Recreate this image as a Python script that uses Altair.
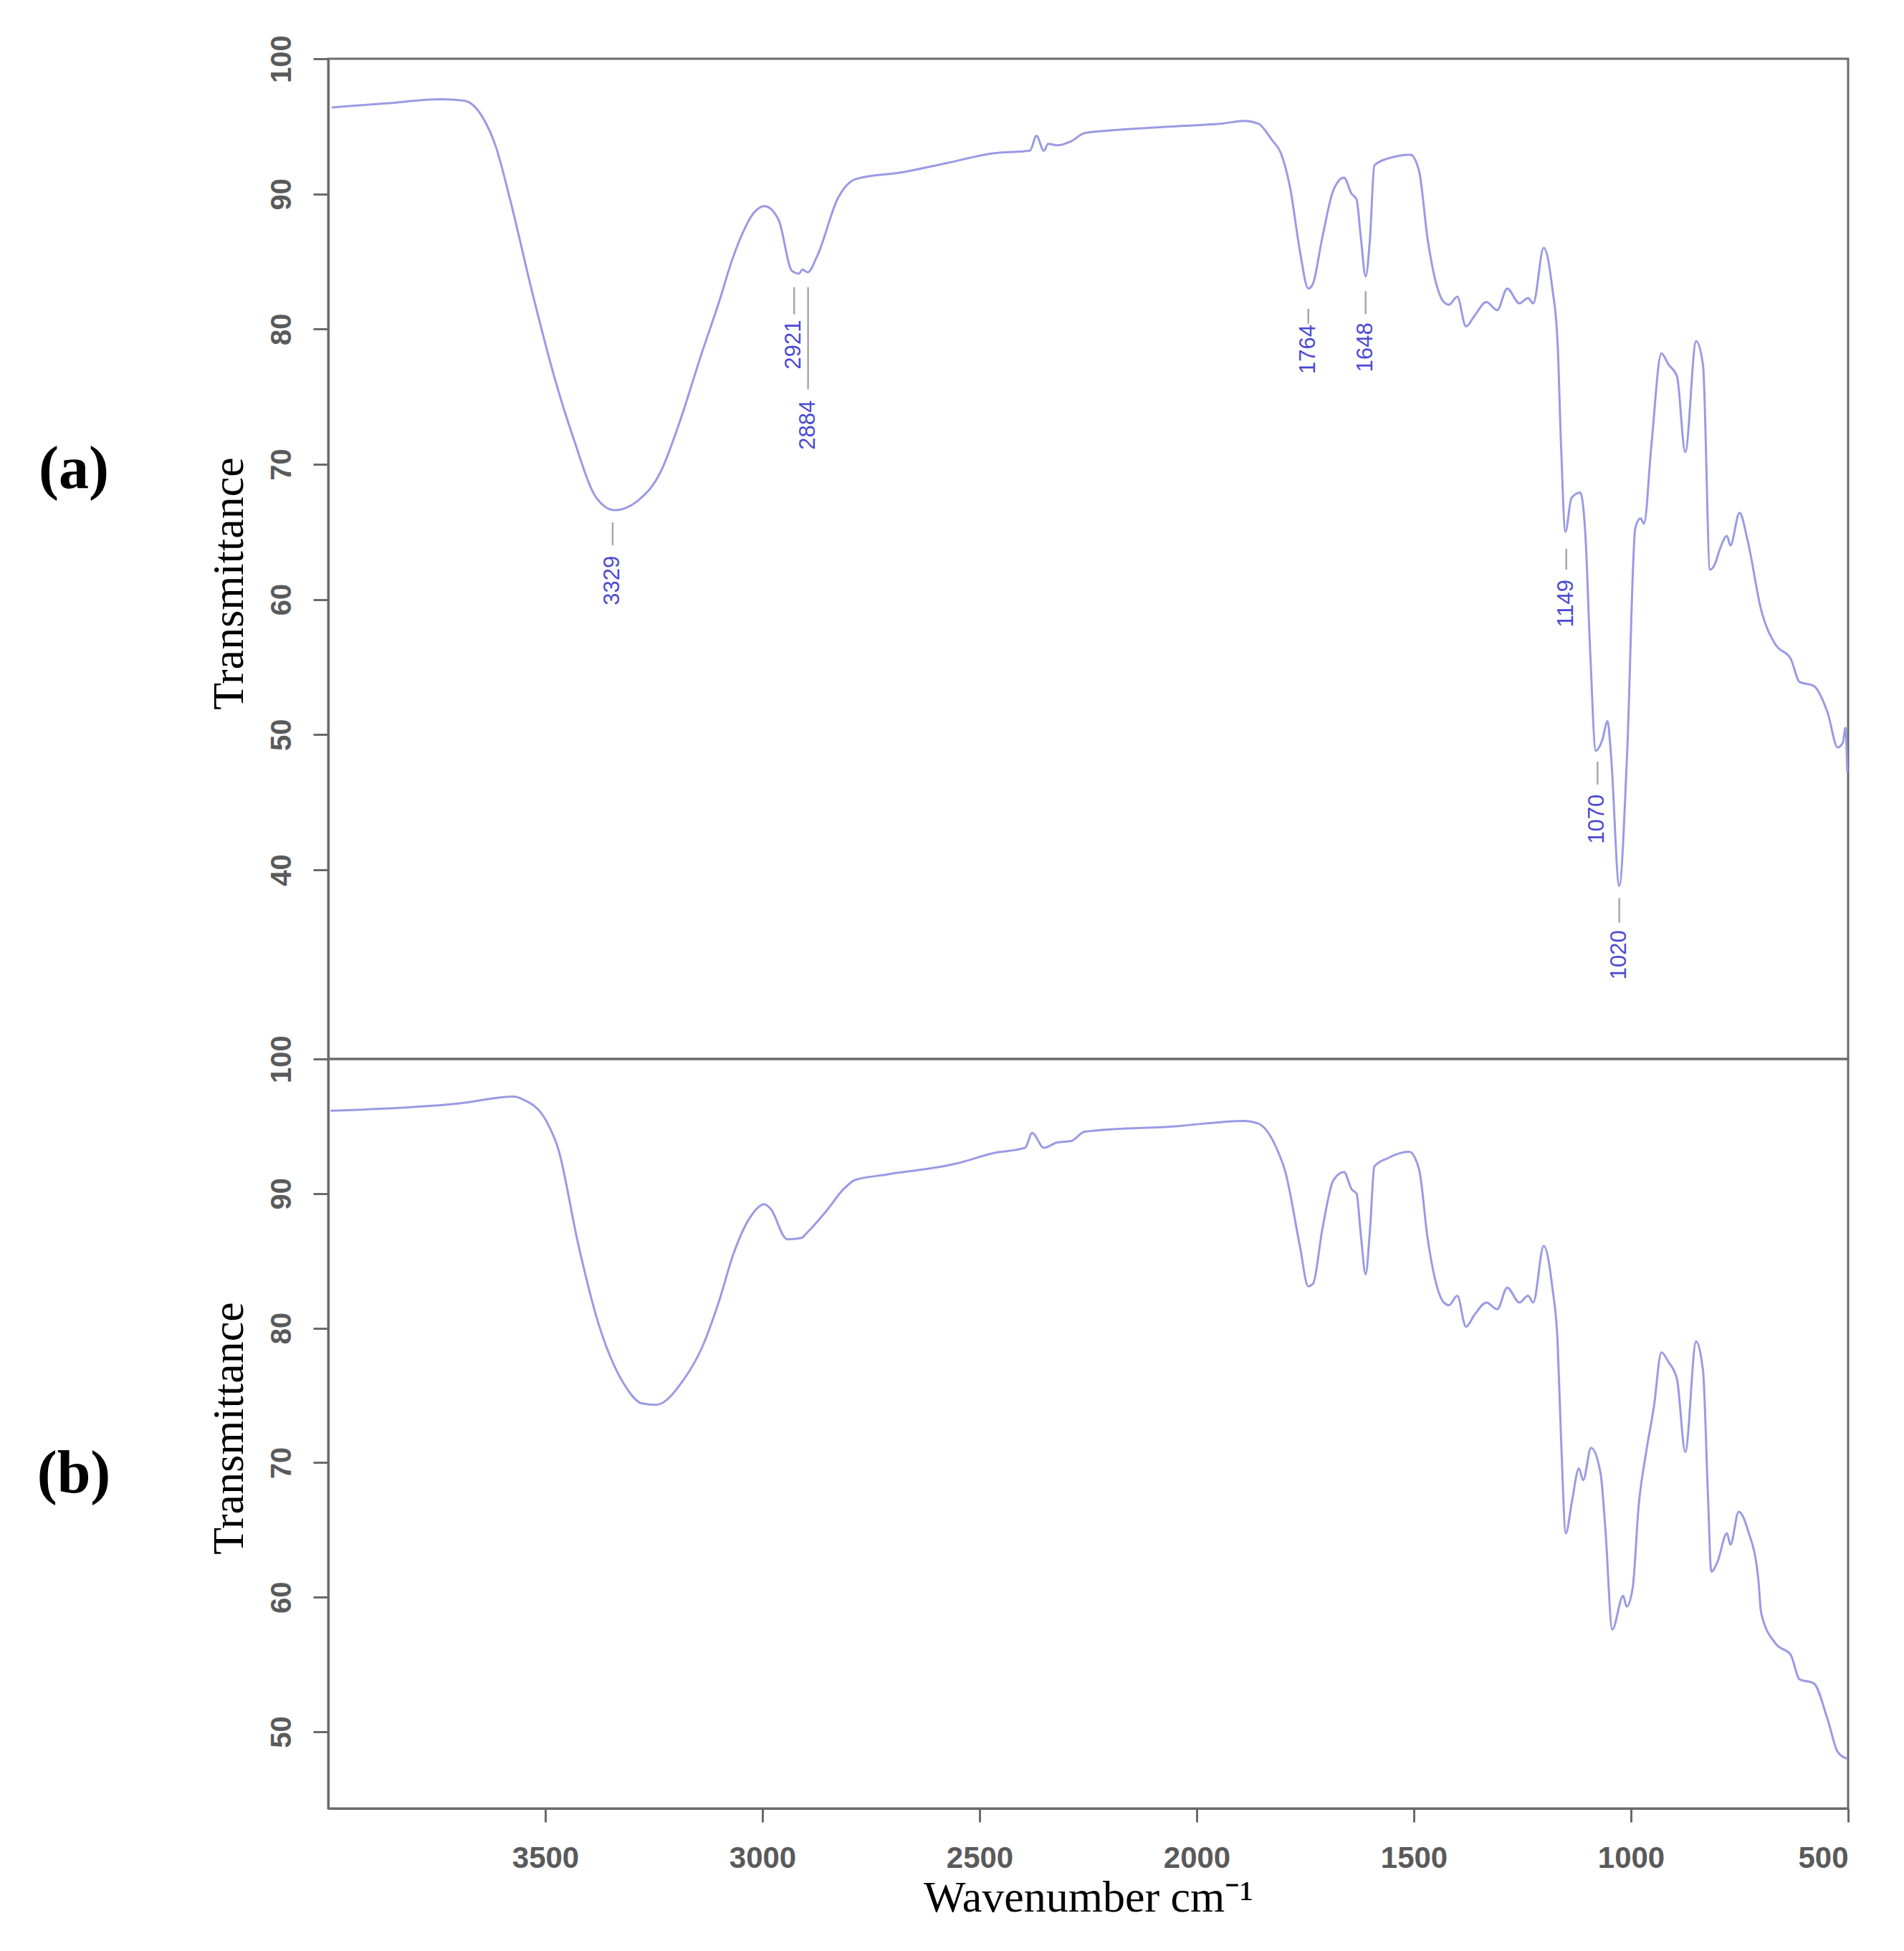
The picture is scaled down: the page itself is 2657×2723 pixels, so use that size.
import altair as alt
import pandas as pd

# ---- spectrum (a) ----
wn_a = [3992, 3866, 3740, 3687, 3645, 3614, 3582, 3530, 3477, 3435, 3382, 3340, 3287, 3235, 3192,
        3140, 3100, 3069, 3040, 3020, 2995, 2963, 2932, 2916, 2908, 2896, 2874, 2826, 2785, 2679, 2573,
        2469, 2384, 2369, 2352, 2342, 2321, 2289, 2258, 2153, 2048, 1943, 1890, 1858, 1827, 1806,
        1784, 1763, 1743, 1733, 1711, 1685, 1661, 1643, 1632, 1622, 1611, 1601, 1591, 1562, 1508,
        1488, 1468, 1431, 1419, 1400, 1380, 1360, 1333, 1308, 1285, 1257, 1237, 1225, 1201, 1181,
        1169, 1161, 1151, 1137, 1117, 1105, 1094, 1081, 1066, 1054, 1046, 1027, 1009, 990, 978,
        970, 953, 930, 914, 894, 875, 850, 834, 818, 807, 795, 779, 771, 750, 731,
        700, 667, 632, 612, 579, 547, 524, 512, 506, 502]
tr_a = [96.4, 96.7, 97.0, 96.9, 95.7, 93.5, 89.7, 82.7, 76.2, 71.9, 67.5, 66.6, 67.3, 69.4, 73.0,
        78.2, 82.0, 85.2, 87.5, 88.6, 89.1, 88.1, 84.3, 84.1, 84.4, 84.2, 85.4, 89.7, 91.1, 91.6, 92.3,
        93.0, 93.2, 94.3, 93.2, 93.7, 93.6, 93.9, 94.5, 94.8, 95.0, 95.2, 95.4, 95.2, 94.0, 93.0,
        90.3, 85.9, 83.0, 83.3, 86.75, 90.3, 91.2, 90.0, 89.6, 86.75, 83.9, 86.7, 92.1, 92.6, 92.9,
        91.7, 86.6, 82.0, 81.8, 82.4, 80.2, 81.0, 82.0, 81.4, 83.0, 81.9, 82.3, 81.9, 86.0, 83.0,
        79.0, 71.4, 65.0, 67.5, 67.9, 64.8, 56.2, 48.8, 49.6, 51.0, 48.5, 38.8, 48.5, 65.3, 66.0,
        65.6, 71.4, 78.2, 77.4, 76.5, 70.9, 79.1, 77.3, 62.2, 62.6, 63.75, 64.7, 64.0, 66.4, 64.3,
        59.2, 56.65, 55.6, 53.9, 53.6, 51.6, 49.05, 49.4, 50.5, 47.2]

# ---- spectrum (b) ----
wn_b = [3995, 3698, 3572, 3552, 3498, 3471, 3424, 3382, 3319, 3277, 3245, 3183, 3140, 3100, 3067,
        3029, 2996, 2982, 2943, 2910, 2897, 2853, 2814, 2787, 2716, 2550, 2469, 2395, 2379, 2352,
        2321, 2289, 2258, 2048, 1890, 1858, 1821, 1795, 1763, 1743, 1732, 1711, 1685, 1661, 1643,
        1632, 1622, 1611, 1601, 1591, 1562, 1511, 1488, 1468, 1431, 1419, 1400, 1380, 1360, 1333,
        1308, 1285, 1257, 1237, 1225, 1201, 1181, 1169, 1161, 1150, 1136, 1120, 1110, 1092, 1070,
        1059, 1043, 1018, 1010, 996, 982, 966, 947, 930, 914, 894, 875, 850, 834, 823,
        815, 801, 779, 771, 752, 730, 707, 700, 667, 632, 612, 579, 547, 524, 503]
tr_b = [96.15, 96.7, 97.2, 97.0, 95.4, 93.4, 86.2, 80.8, 75.85, 74.4, 74.3, 76.1, 78.5, 82.0, 85.5,
        88.2, 89.2, 88.9, 86.6, 86.7, 87.1, 88.7, 90.3, 91.0, 91.4, 92.25, 93.0, 93.4, 94.5, 93.4,
        93.8, 93.9, 94.6, 95.0, 95.4, 95.2, 93.7, 91.5, 86.2, 83.1, 83.3, 87.3, 91.0, 91.6, 90.3,
        90.0, 86.9, 84.0, 87.3, 92.0, 92.6, 93.1, 91.8, 86.6, 81.9, 81.7, 82.4, 80.1, 81.0, 81.9,
        81.4, 83.0, 81.9, 82.4, 81.9, 86.1, 83.0, 79.0, 71.8, 64.75, 67.1, 69.55, 68.7, 71.1, 69.2,
        65.1, 57.6, 60.1, 59.3, 60.7, 66.9, 70.6, 74.2, 78.2, 77.5, 76.2, 70.8, 79.0, 76.8, 67.8,
        61.9, 62.6, 64.75, 63.9, 66.35, 64.9, 61.4, 58.8, 56.55, 55.7, 53.9, 53.6, 50.9, 48.5, 48.0]

# ---- peak annotations in (a) ----
peak_labels = ["3329", "2921", "2884", "1764", "1648", "1149", "1070", "1020"]
peak_pos = [3345, 2927, 2895, 1743, 1611, 1149, 1077, 1027]
mark_top = [65.7, 83.1, 83.1, 81.5, 82.8, 63.75, 48.0, 37.9]
mark_bottom = [64.0, 81.1, 75.55, 80.4, 81.1, 62.2, 46.3, 36.1]
label_mid = [61.4, 78.85, 72.9, 78.5, 78.65, 59.7, 43.75, 33.7]

x_ticks = [3500, 3000, 2500, 2000, 1500, 1000, 500]
y_ticks_a = [40, 50, 60, 70, 80, 90, 100]
y_ticks_b = [50, 60, 70, 80, 90, 100]

df_a = pd.DataFrame({"wn": wn_a, "t": tr_a})
df_b = pd.DataFrame({"wn": wn_b, "t": tr_b})
df_pk = pd.DataFrame({"wn": peak_pos, "top": mark_top, "bot": mark_bottom,
                      "mid": label_mid, "lab": peak_labels})

LINE = "#9a9ae4"
AX = "#6a6a6a"
W = 2121
HA = 1396
HB = 1046

xscale = alt.Scale(domain=[4000, 500], nice=False, zero=False)


def yaxis(values, title_y):
    return alt.Axis(values=values, title="Transmittance", grid=False, format="d",
                    labelAngle=270, labelAlign="center", labelBaseline="alphabetic",
                    labelPadding=32, labelFont="Liberation Sans", labelFontSize=40,
                    labelFontWeight="bold", labelColor="#5a5a5a",
                    tickSize=21, tickWidth=3, tickColor=AX,
                    domainColor=AX, domainWidth=3,
                    titleFont="Liberation Serif", titleFontSize=62, titleFontWeight="normal",
                    titleColor="#000000", titleX=-120, titleY=title_y,
                    titleBaseline="alphabetic", titleAngle=270)


# panel (a)
ya = alt.Y("t:Q", scale=alt.Scale(domain=[26, 100], nice=False, zero=False),
           axis=yaxis(y_ticks_a, 732))
line_a = alt.Chart(df_a).mark_line(color=LINE, strokeWidth=3, interpolate="monotone").encode(
    x=alt.X("wn:Q", scale=xscale, axis=None), y=ya)
rules_a = alt.Chart(df_pk).mark_rule(color="#a8a8a8", strokeWidth=2.5).encode(
    x=alt.X("wn:Q", scale=xscale, axis=None),
    y=alt.Y("top:Q", scale=alt.Scale(domain=[26, 100], nice=False, zero=False)),
    y2="bot:Q")
text_a = alt.Chart(df_pk).mark_text(angle=270, font="Liberation Sans", fontSize=31,
                                    color="#4a4ad2", align="center", baseline="middle").encode(
    x=alt.X("wn:Q", scale=xscale, axis=None),
    y=alt.Y("mid:Q", scale=alt.Scale(domain=[26, 100], nice=False, zero=False)),
    text="lab:N")
tag_a = alt.Chart(pd.DataFrame({"tag": ["(a)"]})).mark_text(
    font="Liberation Serif", fontSize=84, fontWeight="bold", color="#000000",
    align="center", baseline="middle").encode(
    x=alt.value(-355), y=alt.value(574), text="tag:N")

panel_a = alt.layer(line_a, rules_a, text_a, tag_a).properties(width=W, height=HA)

# panel (b)
yb = alt.Y("t:Q", scale=alt.Scale(domain=[44.3, 100], nice=False, zero=False),
           axis=yaxis(y_ticks_b, 515))
line_b = alt.Chart(df_b).mark_line(color=LINE, strokeWidth=3, interpolate="monotone").encode(
    x=alt.X("wn:Q", scale=xscale,
            axis=alt.Axis(values=x_ticks, title="Wavenumber cm⁻¹", grid=False, format="d",
                          labelFont="Liberation Sans", labelFontSize=42, labelFontWeight="bold",
                          labelColor="#5a5a5a", labelPadding=30, labelAngle=0,
                          tickSize=19, tickWidth=3, tickColor=AX,
                          domainColor=AX, domainWidth=3,
                          titleFont="Liberation Serif", titleFontSize=62,
                          titleFontWeight="normal", titleColor="#000000",
                          titleY=143, titleBaseline="alphabetic")),
    y=yb)
tag_b = alt.Chart(pd.DataFrame({"tag": ["(b)"]})).mark_text(
    font="Liberation Serif", fontSize=84, fontWeight="bold", color="#000000",
    align="center", baseline="middle").encode(
    x=alt.value(-355), y=alt.value(580), text="tag:N")

panel_b = alt.layer(line_b, tag_b).properties(width=W, height=HB)

chart = alt.vconcat(panel_a, panel_b, spacing=0, bounds="flush").configure(
    padding={"left": 42, "top": 39, "right": 10, "bottom": 10},
    background="#ffffff"
).configure_view(stroke=AX, strokeWidth=3)

chart.save("out.html", embed_options={"renderer": "svg", "actions": False})
